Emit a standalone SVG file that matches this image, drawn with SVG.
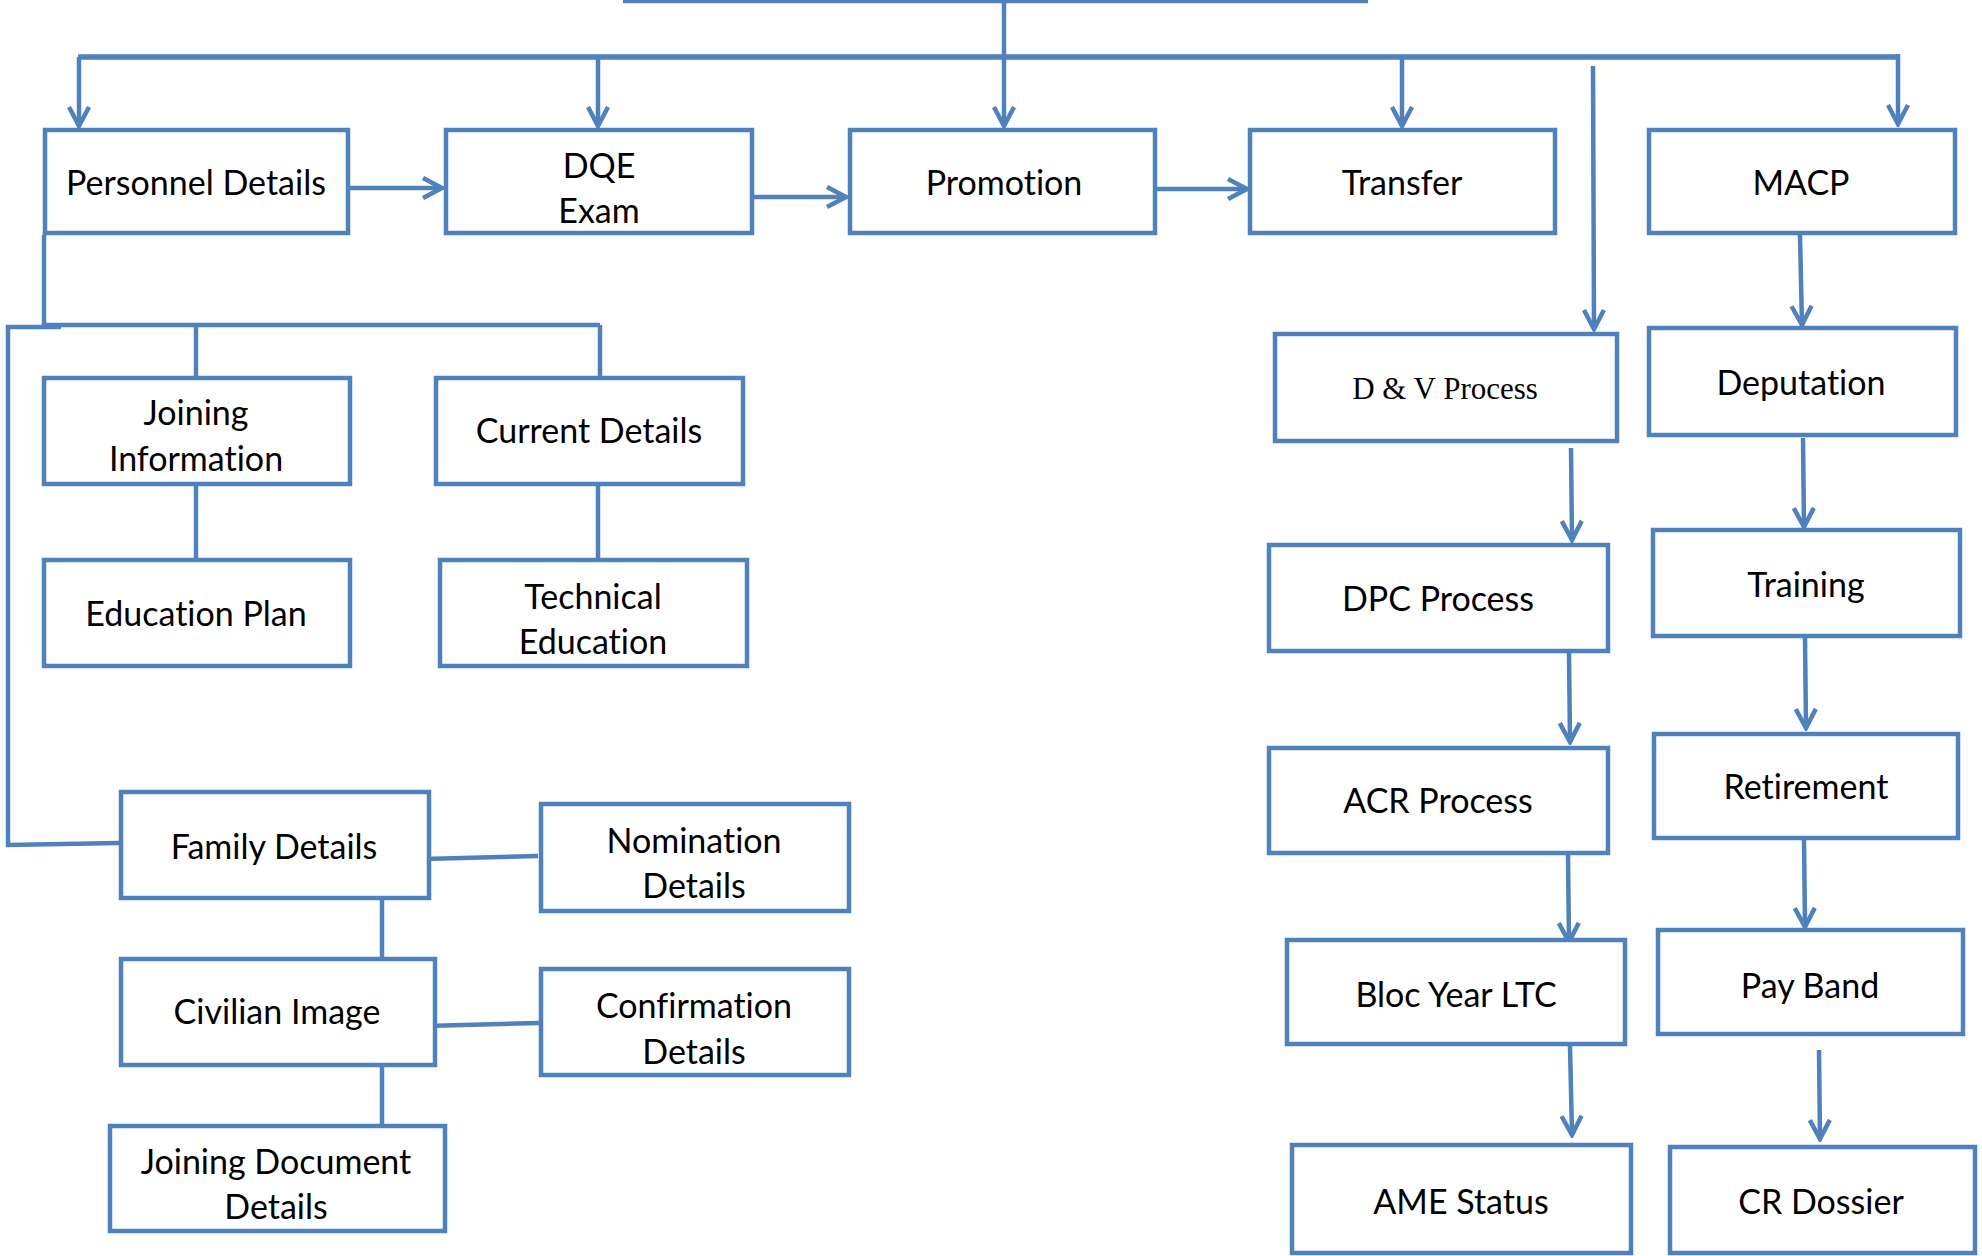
<svg xmlns="http://www.w3.org/2000/svg" width="1982" height="1256" viewBox="0 0 1982 1256">
<defs>
<style>
.box{fill:#fff;stroke:#4F81BD;stroke-width:4.5}
.lbl{font-family:Lato,"Open Sans","Liberation Sans",sans-serif;font-size:34px;fill:#000;text-anchor:middle;font-variant-ligatures:none}
.ser{font-family:"Liberation Serif","DejaVu Serif",serif;font-size:31px;fill:#000;text-anchor:middle}
.c{fill:none;stroke:#4F81BD;stroke-width:4.5}
.a{fill:none;stroke:#4F81BD;stroke-width:4.5;marker-end:url(#arr)}
</style>
<marker id="arr" markerUnits="userSpaceOnUse" viewBox="-22 -13 25 26" markerWidth="25" markerHeight="26" refX="0" refY="0" orient="auto">
<path d="M-19,-10 L0,0 L-19,10" fill="none" stroke="#4F81BD" stroke-width="4.5"/>
</marker>
</defs>
<rect width="1982" height="1256" fill="#fff"/>
<g id="connectors">
<path class="c" d="M623,1 H1368"/>
<path class="c" d="M1004,0 V57"/>
<path class="c" style="stroke-width:5.5" d="M78,57 H1899"/>
<path class="a" d="M79,57 V126"/>
<path class="a" d="M598,57 V126"/>
<path class="a" d="M1004,57 V126"/>
<path class="a" d="M1402,57 V126"/>
<path class="a" d="M1898,54 V124"/>
<path class="a" d="M350,188 H442"/>
<path class="a" d="M754,197 H846"/>
<path class="a" d="M1157,189 H1247"/>
<path class="a" d="M1593,66 L1594,329"/>
<path class="a" d="M1800,235 L1802,325"/>
<path class="a" d="M1571,448 L1572,540"/>
<path class="a" d="M1803,438 L1804,527"/>
<path class="a" d="M1569,653 L1570,742"/>
<path class="a" d="M1805,638 L1806,728"/>
<path class="a" d="M1568,855 L1569,942"/>
<path class="a" d="M1804,840 L1805,927"/>
<path class="a" d="M1570,1046 L1572,1135"/>
<path class="a" d="M1819,1050 L1820,1139"/>
<path class="c" d="M44,235 V325"/>
<path class="c" d="M42,325 H600"/>
<path class="c" d="M61,327 H8 V845 L119,843"/>
<path class="c" d="M196,325 V377"/>
<path class="c" d="M600,325 V377"/>
<path class="c" d="M196,486 V558"/>
<path class="c" d="M598,486 V558"/>
<path class="c" d="M423,859 L538,856"/>
<path class="c" d="M382,900 V962"/>
<path class="c" d="M426,1026 L539,1023"/>
<path class="c" d="M382,1062 V1124"/>
</g>
<g id="personnel"><rect class="box" x="45" y="130" width="303" height="103"/><text class="lbl" x="196" y="195">Personnel Details</text></g>
<g id="dqe"><rect class="box" x="446" y="130" width="306" height="103"/><text class="lbl" x="599" y="178">DQE</text><text class="lbl" x="599" y="223">Exam</text></g>
<g id="promotion"><rect class="box" x="850" y="130" width="305" height="103"/><text class="lbl" x="1004" y="195">Promotion</text></g>
<g id="transfer"><rect class="box" x="1250" y="130" width="305" height="103"/><text class="lbl" x="1402" y="195">Transfer</text></g>
<g id="macp"><rect class="box" x="1649" y="130" width="306" height="103"/><text class="lbl" x="1801" y="195">MACP</text></g>
<g id="joining"><rect class="box" x="44" y="378" width="306" height="106"/><text class="lbl" x="196" y="425">Joining</text><text class="lbl" x="196" y="471">Information</text></g>
<g id="current"><rect class="box" x="436" y="378" width="307" height="106"/><text class="lbl" x="589" y="443">Current Details</text></g>
<g id="education"><rect class="box" x="44" y="560" width="306" height="106"/><text class="lbl" x="196" y="626">Education Plan</text></g>
<g id="technical"><rect class="box" x="440" y="560" width="307" height="106"/><text class="lbl" x="593" y="609">Technical</text><text class="lbl" x="593" y="654">Education</text></g>
<g id="family"><rect class="box" x="121" y="792" width="308" height="106"/><text class="lbl" x="274" y="859">Family Details</text></g>
<g id="nomination"><rect class="box" x="541" y="804" width="308" height="107"/><text class="lbl" x="694" y="853">Nomination</text><text class="lbl" x="694" y="898">Details</text></g>
<g id="civilian"><rect class="box" x="121" y="959" width="314" height="106"/><text class="lbl" x="277" y="1024">Civilian Image</text></g>
<g id="confirmation"><rect class="box" x="541" y="969" width="308" height="106"/><text class="lbl" x="694" y="1018">Confirmation</text><text class="lbl" x="694" y="1064">Details</text></g>
<g id="joiningdoc"><rect class="box" x="110" y="1126" width="335" height="105"/><text class="lbl" x="276" y="1174">Joining Document</text><text class="lbl" x="276" y="1219">Details</text></g>
<g id="dv"><rect class="box" x="1275" y="334" width="342" height="107"/><text class="ser" x="1445" y="399">D &amp; V Process</text></g>
<g id="deputation"><rect class="box" x="1649" y="328" width="307" height="107"/><text class="lbl" x="1801" y="395">Deputation</text></g>
<g id="dpc"><rect class="box" x="1269" y="545" width="339" height="106"/><text class="lbl" x="1438" y="611">DPC Process</text></g>
<g id="training"><rect class="box" x="1653" y="530" width="307" height="106"/><text class="lbl" x="1806" y="597">Training</text></g>
<g id="acr"><rect class="box" x="1269" y="748" width="339" height="105"/><text class="lbl" x="1438" y="813">ACR Process</text></g>
<g id="retirement"><rect class="box" x="1654" y="734" width="304" height="104"/><text class="lbl" x="1806" y="799">Retirement</text></g>
<g id="bloc"><rect class="box" x="1287" y="940" width="338" height="104"/><text class="lbl" x="1456" y="1007">Bloc Year LTC</text></g>
<g id="payband"><rect class="box" x="1658" y="930" width="305" height="104"/><text class="lbl" x="1810" y="998">Pay Band</text></g>
<g id="ame"><rect class="box" x="1292" y="1145" width="339" height="108"/><text class="lbl" x="1461" y="1214">AME Status</text></g>
<g id="cr"><rect class="box" x="1670" y="1147" width="305" height="106"/><text class="lbl" x="1821" y="1214">CR Dossier</text></g>
</svg>
